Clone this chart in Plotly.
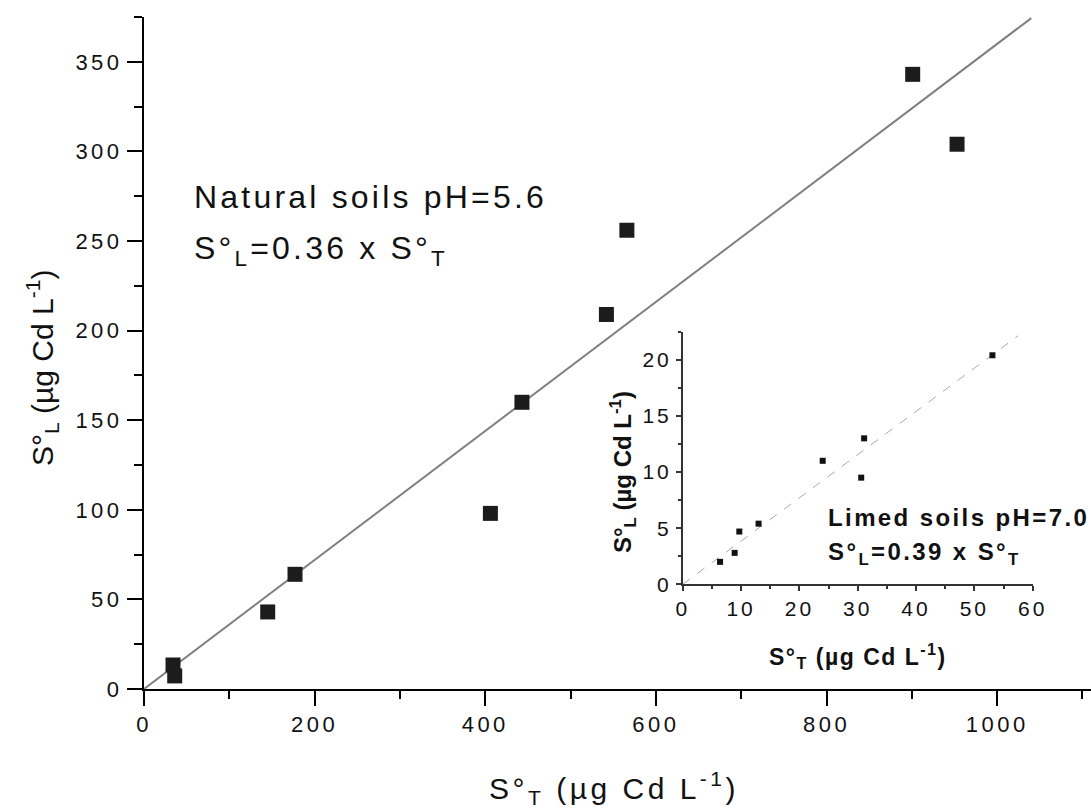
import plotly.graph_objects as go

# Main chart: natural soils pH=5.6
natural_ST = [34, 36, 145, 177, 406, 443, 542, 566, 901, 953]
natural_SL = [13.4, 7.3, 43, 64, 98, 160, 209, 256, 343, 304]
natural_slope = 0.36
natural_fit_x = [0, 1040]
main_xticks = [0, 200, 400, 600, 800, 1000]
main_yticks = [0, 50, 100, 150, 200, 250, 300, 350]

# Inset: limed soils pH=7.0
limed_ST = [6.4, 8.9, 9.7, 13.0, 24.0, 30.6, 31.1, 53.1]
limed_SL = [2.0, 2.8, 4.7, 5.4, 11.0, 9.5, 13.0, 20.4]
limed_slope = 0.385
limed_fit_x = [0, 57.5]
inset_xticks = [0, 10, 20, 30, 40, 50, 60]
inset_yticks = [0, 5, 10, 15, 20]

FONT = "Liberation Sans, Arial, sans-serif"


def sp(text, ls):
    return f'<span style="letter-spacing:{ls}px">{text}</span>'


fig = go.Figure()

fig.add_trace(go.Scatter(
    x=natural_fit_x, y=[v * natural_slope for v in natural_fit_x],
    mode="lines", line=dict(color="#808080", width=2), showlegend=False,
    xaxis="x", yaxis="y"))
fig.add_trace(go.Scatter(
    x=natural_ST, y=natural_SL, mode="markers",
    marker=dict(symbol="square", size=15, color="#1c1c1c"),
    showlegend=False, xaxis="x", yaxis="y", cliponaxis=False))

fig.add_trace(go.Scatter(
    x=limed_fit_x, y=[v * limed_slope for v in limed_fit_x],
    mode="lines", line=dict(color="#a8a8a8", width=1, dash="dash"),
    showlegend=False, xaxis="x2", yaxis="y2"))
fig.add_trace(go.Scatter(
    x=limed_ST, y=limed_SL, mode="markers",
    marker=dict(symbol="square", size=6, color="#111111"),
    showlegend=False, xaxis="x2", yaxis="y2", cliponaxis=False))

main_axis = dict(showline=True, linecolor="black", linewidth=2, ticks="outside",
                 ticklen=15, tickwidth=2, tickcolor="black", showgrid=False,
                 zeroline=False, automargin=False,
                 tickfont=dict(family=FONT, size=22, color="#111"))
inset_axis = dict(showline=True, linecolor="#333", linewidth=1.5, ticks="outside",
                  ticklen=5, tickwidth=1.5, tickcolor="#333", showgrid=False,
                  zeroline=False, automargin=False,
                  tickfont=dict(family=FONT, size=21, color="#111"))

fig.update_layout(
    width=1091, height=811,
    margin=dict(l=144, r=0, t=17, b=122, autoexpand=False),
    paper_bgcolor="white", plot_bgcolor="white",
    showlegend=False,
    font=dict(family=FONT, color="#111"),
    xaxis=dict(range=[0, 1110], tickvals=main_xticks,
               ticktext=[sp(str(v), 3.5) for v in main_xticks],
               minor=dict(dtick=100, tick0=0, ticklen=8, tickwidth=2, tickcolor="black", ticks="outside"),
               domain=[0, 1], anchor="y", **main_axis),
    yaxis=dict(range=[0, 375], tickvals=main_yticks,
               ticktext=[sp(str(v), 3.5) for v in main_yticks],
               minor=dict(dtick=25, tick0=0, ticklen=8, tickwidth=2, tickcolor="black", ticks="outside"),
               domain=[0, 1], anchor="x", **main_axis),
    xaxis2=dict(range=[0, 60], tickvals=inset_xticks,
                ticktext=[sp(str(v), 3) for v in inset_xticks],
                minor=dict(dtick=5, tick0=0, ticklen=3, tickwidth=1.5, tickcolor="#333", ticks="outside"),
                domain=[0.5689, 0.9384], anchor="y2", **inset_axis),
    yaxis2=dict(range=[0, 22.5], tickvals=inset_yticks,
                ticktext=[sp(str(v), 3) for v in inset_yticks],
                minor=dict(dtick=2.5, tick0=0, ticklen=3, tickwidth=1.5, tickcolor="#333", ticks="outside"),
                domain=[0.1558, 0.5317], anchor="x2", **inset_axis),
)


def px_x(p):
    return (p - 144) / 947.0


def px_y(p):
    return (689 - p) / 672.0


annotations = [
    # main axis titles
    dict(text=sp("S°<sub>T</sub> (µg Cd L<sup>-1</sup>)", 3.5), x=px_x(614), y=px_y(788),
         font=dict(size=30)),
    dict(text="S°<sub>L</sub> (µg Cd L<sup>-1</sup>)", x=px_x(42), y=px_y(368),
         textangle=-90, font=dict(size=30)),
    # main text
    dict(text=sp("Natural soils pH=5.6", 3.2), x=px_x(192), y=px_y(197), xanchor="left",
         font=dict(size=32)),
    dict(text=sp("S°<sub>L</sub>=0.36 x S°<sub>T</sub>", 3.2), x=px_x(192), y=px_y(250), xanchor="left",
         font=dict(size=32)),
    # inset titles
    dict(text="<b>" + sp("S°<sub>T</sub> (µg Cd L<sup>-1</sup>)", 1.5) + "</b>", x=px_x(858), y=px_y(656),
         font=dict(size=23)),
    dict(text="<b>S°<sub>L</sub> (µg Cd L<sup>-1</sup>)</b>", x=px_x(623), y=px_y(472),
         textangle=-90, font=dict(size=24)),
    dict(text="<b>" + sp("Limed soils pH=7.0", 2.4) + "</b>", x=px_x(826), y=px_y(517), xanchor="left",
         font=dict(size=24)),
    dict(text="<b>" + sp("S°<sub>L</sub>=0.39 x S°<sub>T</sub>", 2.4) + "</b>", x=px_x(826), y=px_y(553),
         xanchor="left", font=dict(size=24)),
]
for a in annotations:
    a.setdefault("xanchor", "center")
    a.update(xref="paper", yref="paper", showarrow=False, yanchor="middle")
    a["font"].update(family=FONT, color="#111")
fig.update_layout(annotations=annotations)

fig.write_html("out.html")
